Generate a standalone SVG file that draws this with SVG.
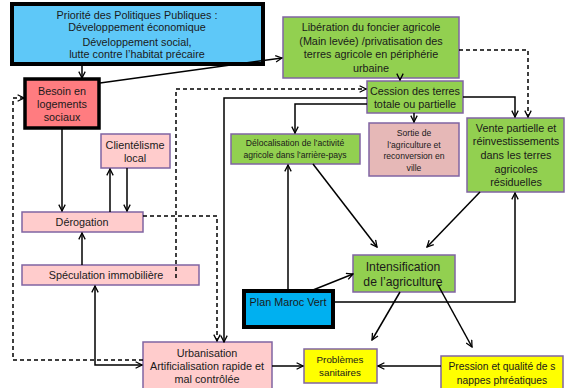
<svg xmlns="http://www.w3.org/2000/svg" width="566" height="388" viewBox="0 0 566 388">
<defs>
<marker id="ah" viewBox="0 0 10 10" refX="9" refY="5" markerWidth="8" markerHeight="8" markerUnits="userSpaceOnUse" orient="auto-start-reverse">
<path d="M1,1 L9,5 L1,9" fill="none" stroke="#000" stroke-width="1.6"/>
</marker>
<style>
text{font-family:"Liberation Sans",Arial,sans-serif;fill:#1a1a1a;text-anchor:middle}
.n{stroke:#8064a2;stroke-width:1.5}
.thick{stroke:#000;stroke-width:4}
.g{fill:#92d050}
.p{fill:#ffcccc}
.y{fill:#ffff00}
.c{fill:none;stroke:#000;stroke-width:1.5}
.d{fill:none;stroke:#000;stroke-width:1.5;stroke-dasharray:4,3}
.a{marker-end:url(#ah)}
.s{marker-start:url(#ah)}
.f11{font-size:10.8px}
.f9{font-size:8.6px}
</style>
</defs>
<rect width="566" height="388" fill="#fff"/>

<g id="priorite">
<rect x="12" y="4" width="251" height="60" fill="#5ec8f8" class="thick"/>
<text class="f11" x="137" y="19">Priorité des Politiques Publiques :</text>
<text class="f11" x="137" y="31">Développement économique</text>
<text class="f11" x="137" y="46">Développement social,</text>
<text class="f11" x="137" y="58">lutte contre l’habitat précaire</text>
</g>
<g id="besoin">
<rect x="25" y="79" width="74" height="49" fill="#ff7c80" stroke="#000" stroke-width="3.5"/>
<text class="f11" x="62" y="95">Besoin en</text>
<text class="f11" x="62" y="108">logements</text>
<text class="f11" x="62" y="121">sociaux</text>
</g>
<g id="liberation">
<rect x="283" y="17" width="176" height="61" class="n g"/>
<text class="f11" x="371" y="31">Libération du foncier agricole</text>
<text class="f11" x="371" y="45">(Main levée) /privatisation des</text>
<text class="f11" x="371" y="58">terres  agricole en périphérie</text>
<text class="f11" x="371" y="72">urbaine</text>
</g>
<g id="cession">
<rect x="367" y="81" width="96" height="32" class="n g"/>
<text class="f11" x="415" y="95">Cession des terres</text>
<text class="f11" x="415" y="108">totale ou partielle</text>
</g>
<g id="sortie">
<rect x="369" y="123" width="90" height="53" class="n" fill="#e6b8b7"/>
<text class="f9" x="414" y="136">Sortie de</text>
<text class="f9" x="414" y="148">l’agriculture et</text>
<text class="f9" x="414" y="159">reconversion en</text>
<text class="f9" x="414" y="171">ville</text>
</g>
<g id="vente">
<rect x="467" y="118" width="97" height="74" class="n g"/>
<text class="f11" x="516" y="132">Vente partielle et</text>
<text class="f11" x="516" y="145">réinvestissements</text>
<text class="f11" x="516" y="159">dans les terres</text>
<text class="f11" x="516" y="173">agricoles</text>
<text class="f11" x="516" y="186">résiduelles</text>
</g>
<g id="delocalisation">
<rect x="231" y="134" width="129" height="30" class="n g"/>
<text class="f9" x="295" y="146">Délocalisation de l’activité</text>
<text class="f9" x="295" y="158">agricole dans l’arrière-pays</text>
</g>
<g id="clientelisme">
<rect x="101" y="134" width="69" height="34" class="n p"/>
<text class="f11" x="135" y="149">Clientélisme</text>
<text class="f11" x="135" y="162">local</text>
</g>
<g id="derogation">
<rect x="22" y="212" width="121" height="20" class="n p"/>
<text class="f11" x="82" y="226">Dérogation</text>
</g>
<g id="speculation">
<rect x="22" y="265" width="177" height="20" class="n p"/>
<text class="f11" x="106" y="279">Spéculation immobilière</text>
</g>
<g id="plan">
<rect x="244" y="291" width="89" height="36" fill="#00b0f0" class="thick"/>
<text class="f11" x="288" y="306">Plan Maroc Vert</text>
</g>
<g id="intensification">
<rect x="353" y="255" width="102" height="37" class="n g"/>
<text x="403" y="271" font-size="12.2px">Intensification</text>
<text x="403" y="286" font-size="12.2px">de l’agriculture</text>
</g>
<g id="urbanisation">
<rect x="143" y="342" width="129" height="50" class="n p"/>
<text class="f11" x="207" y="357">Urbanisation</text>
<text class="f11" x="207" y="370">Artificialisation rapide et</text>
<text class="f11" x="207" y="383">mal contrôlée</text>
</g>
<g id="problemes">
<rect x="304" y="349" width="73" height="34" class="n y"/>
<text x="340" y="363" font-size="9.8px">Problèmes</text>
<text x="340" y="376" font-size="9.8px">sanitaires</text>
</g>
<g id="pression">
<rect x="441" y="356" width="122" height="36" class="n y"/>
<text x="502" y="370" font-size="10.3px">Pression  et qualité de s</text>
<text x="502" y="384" font-size="10.3px">nappes phréatiques</text>
</g>

<g id="connectors">
<path class="c a" d="M82,64 V78"/>
<path class="c a" d="M100,83 L282,58"/>
<path class="c a" d="M400,78 V80"/>
<path class="d a" d="M459,50 H528 V117"/>
<path class="c a" d="M463,97 H515 V117"/>
<path class="c a" d="M414,113 V122"/>
<path class="c a" d="M367,104 H295 V133"/>
<path class="c a" d="M367,98 H224 V342"/>
<path class="d a" d="M176,278 V89 H366"/>
<path class="c a" d="M288,291 V165"/>
<path class="c a" d="M313,164 L377,247"/>
<path class="c a" d="M313,290 L353,274"/>
<path class="c a" d="M333,302 H515 V193"/>
<path class="c a" d="M480,192 L427,247"/>
<path class="c a" d="M400,292 L372,340"/>
<path class="c a" d="M438,285 L472,347"/>
<path class="c a" d="M441,366 H378"/>
<path class="c a" d="M272,366 H303"/>
<path class="c a" d="M62,128 V211"/>
<path class="c a" d="M110,212 V169"/>
<path class="c a" d="M127,168 V211"/>
<path class="c a" d="M82,265 V233"/>
<path class="d a" d="M143,216 H217 V341"/>
<path class="d a" d="M143,360 H13 V98 H24"/>
<path class="c a s" d="M95,286 V365 H142"/>
</g>
</svg>
